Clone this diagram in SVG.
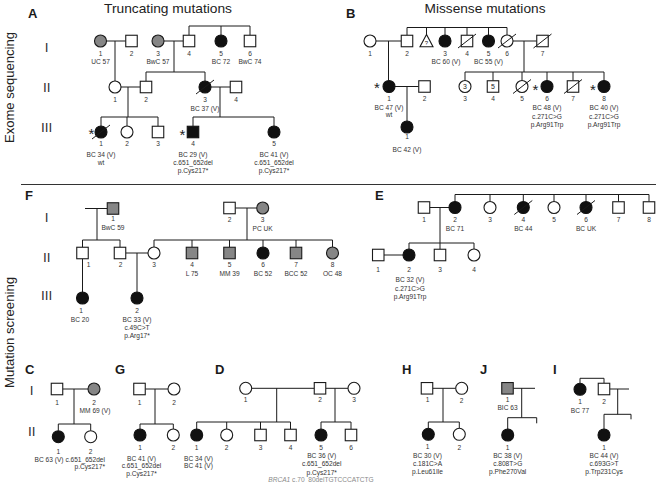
<svg xmlns="http://www.w3.org/2000/svg" width="656" height="483" viewBox="0 0 656 483">
<style>
.o{fill:#fff;stroke:#1a1a1a;stroke-width:1.1}
.k{fill:#111;stroke:#111;stroke-width:1.1}
.g{fill:#868686;stroke:#1a1a1a;stroke-width:1.1}
.c{fill:none;stroke:#1a1a1a;stroke-width:1}
.d{stroke:#1a1a1a;stroke-width:1}
.n{font-family:"Liberation Sans",Arial,sans-serif;font-size:6.6px;fill:#333;text-anchor:middle}
.p{font-family:"Liberation Sans",Arial,sans-serif;font-size:13px;font-weight:bold;fill:#1a1a1a}
.gen{font-family:"Liberation Sans",Arial,sans-serif;font-size:13.5px;fill:#333;text-anchor:middle}
.ttl{font-family:"Liberation Sans",Arial,sans-serif;font-size:13.5px;fill:#222;text-anchor:middle}
.st{font-family:"Liberation Sans",Arial,sans-serif;font-size:15px;fill:#222;text-anchor:middle}
.in{font-family:"Liberation Sans",Arial,sans-serif;font-size:7px;fill:#222;text-anchor:middle}
</style>
<rect width="656" height="483" fill="#fff"/>
<!-- titles and section labels -->
<text class="ttl" x="168" y="12.5" textLength="128" lengthAdjust="spacingAndGlyphs">Truncating mutations</text>
<text class="ttl" x="485" y="12.5" textLength="121" lengthAdjust="spacingAndGlyphs">Missense mutations</text>
<text class="ttl" transform="translate(13.5,87.5) rotate(-90)" textLength="111" lengthAdjust="spacingAndGlyphs">Exome sequencing</text>
<text class="ttl" transform="translate(13.5,332.5) rotate(-90)" textLength="111" lengthAdjust="spacingAndGlyphs">Mutation screening</text>
<line x1="21" y1="184.5" x2="656" y2="184.5" stroke="#333" stroke-width="1"/>
<text class="p" x="28" y="18.3">A</text>
<text class="p" x="346" y="18.3">B</text>
<text class="p" x="25" y="200">F</text>
<text class="p" x="375" y="200">E</text>
<text class="p" x="25" y="374">C</text>
<text class="p" x="115" y="374">G</text>
<text class="p" x="215" y="374">D</text>
<text class="p" x="402" y="374">H</text>
<text class="p" x="480" y="374">J</text>
<text class="p" x="553" y="374">I</text>
<g id="generations">
<text class="gen" x="46.7" y="51.7">I</text>
<text class="gen" x="46.7" y="91.7">II</text>
<text class="gen" x="46.7" y="131.7">III</text>
<text class="gen" x="46.7" y="221.7">I</text>
<text class="gen" x="46.7" y="261.7">II</text>
<text class="gen" x="46.7" y="300">III</text>
<text class="gen" x="31.7" y="395">I</text>
<text class="gen" x="31.7" y="436">II</text>
</g>
<g id="connectors" class="c">
<!-- A -->
<path d="M106.5 41H125.75M115 41V81M164 41H183.25M174 41V72M146 72H205M146 72V81.25M205 72V81M189 35.25V26H250V35.25M221 26V35M121 87H140.25M128 87V117M101 117H158M101 117V126M127 117V126M158 117V126.25M211 87H230.25M220 87V117M193 117H274M193 117V126.25M274 117V126"/>
<!-- B -->
<path d="M376 41H401.25M388.5 41V80.5M407 35.25V27.5H507V35M426.5 27.5V34.5M445 27.5V35M467 27.5V35.25M488.5 27.5V35M513 41H536.75M524 41V72M465 72H604M465 72V80.5M493 72V80.75M522 72V80.5M547 72V80.5M573 72V80.75M604 72V80.5M395 86.5H418.75M407 86.5V121"/>
<!-- F -->
<path d="M85 208.5H107.25M97 208.5V240M82.5 240H120M82.5 240V247.25M120 240V247.25M235.25 208H256.7M247 208V240M154 240H332.5M154 240V247M192 240V247.25M229.5 240V247.25M263 240V247M296 240V247.25M332.5 240V247M82.5 258.75V292M125.75 253H148M137 253V292"/>
<!-- E -->
<path d="M429.75 207.5H449M440 207.5V243M409 243H474M409 243V249M440 243V249.25M474 243V249M455 201.5V194.5H649V201.75M490 194.5V201.5M523.3 194.5V201.5M554 194.5V201.5M586 194.5V201.5M618.5 194.5V201.75M384 255H403"/>
<!-- C -->
<path d="M62.75 389H88M74 389V424M58.3 424H90.7M58.3 424V430.7M90.7 424V430.7"/>
<!-- G -->
<path d="M145.25 389H168M155 389V424M140 424H173.3M140 424V429M173.3 424V429"/>
<!-- D -->
<path d="M251.7 388.3H314.25M325.75 388.3H348M276.7 388.3V422M335 388.3V422M196.7 422H290.5M196.7 422V429M226.7 422V429M260.5 422V429.25M290.5 422V429.25M321 422H351M321 422V429M351 422V429.25"/>
<!-- H -->
<path d="M432.75 388.3H455.7M443 388.3V422M428.3 422H459.3M428.3 422V428.3M459.3 422V428.3"/>
<!-- J -->
<path d="M513.25 388.3H535M521.7 388.3V417.7M507.7 417.7H536.7V423.3M507.7 417.7V429"/>
<!-- I -->
<path d="M580 383.3V378.3H604V383.25M609.75 389H629M617.7 389V414.3M604 414.3H631V419.3M604 414.3V429"/>
</g>
<!-- ===== Panel A ===== -->
<g id="A-I-1"><circle class="g" cx="100.5" cy="41" r="6"/><text class="n" x="100.5" y="55.5">1</text><text class="n" x="100.5" y="64">UC 57</text></g>
<g id="A-I-2"><rect class="o" x="125.75" y="35.25" width="11.5" height="11.5"/><text class="n" x="131.5" y="55.5">2</text></g>
<g id="A-I-3"><circle class="g" cx="158" cy="41" r="6"/><text class="n" x="158" y="55.5">3</text><text class="n" x="158" y="64">BwC 57</text></g>
<g id="A-I-4"><rect class="o" x="183.25" y="35.25" width="11.5" height="11.5"/><text class="n" x="189" y="55.5">4</text></g>
<g id="A-I-5"><circle class="k" cx="221" cy="41" r="6"/><text class="n" x="221" y="55.5">5</text><text class="n" x="221" y="64">BC 72</text></g>
<g id="A-I-6"><rect class="o" x="244.25" y="35.25" width="11.5" height="11.5"/><text class="n" x="250" y="55.5">6</text><text class="n" x="250" y="64">BwC 74</text></g>
<g id="A-II-1"><circle class="o" cx="115" cy="87" r="6"/><text class="n" x="115" y="101.5">1</text></g>
<g id="A-II-2"><rect class="o" x="140.25" y="81.25" width="11.5" height="11.5"/><text class="n" x="146" y="101.5">2</text></g>
<g id="A-II-3"><circle class="k" cx="205" cy="87" r="6"/><line class="d" x1="196" y1="94" x2="214" y2="80"/><text class="n" x="205" y="101.5">3</text><text class="n" x="205" y="110.5">BC 37 (V)</text></g>
<g id="A-II-4"><rect class="o" x="230.25" y="81.25" width="11.5" height="11.5"/><text class="n" x="236" y="101.5">4</text></g>
<g id="A-III-1"><circle class="k" cx="101" cy="132" r="6"/><line class="d" x1="92" y1="139" x2="110" y2="125"/><text class="st" x="91.5" y="138.6">*</text><text class="n" x="101" y="146">1</text><text class="n" x="101" y="156.5">BC 34 (V)</text><text class="n" x="101" y="164.8">wt</text></g>
<g id="A-III-2"><circle class="o" cx="127" cy="132" r="6"/><text class="n" x="127" y="146">2</text></g>
<g id="A-III-3"><rect class="o" x="152.25" y="126.25" width="11.5" height="11.5"/><text class="n" x="158" y="146">3</text></g>
<g id="A-III-4"><rect class="k" x="187.25" y="126.25" width="11.5" height="11.5"/><text class="st" x="182.3" y="139.6">*</text><text class="n" x="193" y="146">4</text><text class="n" x="193" y="156.5">BC 29 (V)</text><text class="n" x="193" y="164.8">c.651_652del</text><text class="n" x="193" y="173">p.Cys217*</text></g>
<g id="A-III-5"><circle class="k" cx="274" cy="132" r="6"/><text class="n" x="274" y="146">5</text><text class="n" x="274" y="156.5">BC 41 (V)</text><text class="n" x="274" y="164.8">c.651_652del</text><text class="n" x="274" y="173">p.Cys217*</text></g>
<!-- ===== Panel B ===== -->
<g id="B-I-1"><circle class="o" cx="370" cy="41" r="6"/><text class="n" x="370" y="55.5">1</text></g>
<g id="B-I-2"><rect class="o" x="401.25" y="35.25" width="11.5" height="11.5"/><text class="n" x="407" y="55.5">2</text></g>
<g id="B-I-x"><polygon class="o" points="426.5,34.5 420,46.7 433,46.7"/><text class="in" x="426.5" y="45.3" style="font-size:6px">?</text></g>
<g id="B-I-3"><circle class="k" cx="445" cy="41" r="6"/><text class="n" x="445" y="55.5">3</text><text class="n" x="446" y="63.5">BC 60 (V)</text></g>
<g id="B-I-4"><rect class="o" x="461.25" y="35.25" width="11.5" height="11.5"/><line class="d" x1="458" y1="48" x2="476" y2="34"/><text class="n" x="467" y="55.5">4</text></g>
<g id="B-I-5"><circle class="k" cx="488.5" cy="41" r="6"/><text class="n" x="488.5" y="55.5">5</text><text class="n" x="488.5" y="63.5">BC 55 (V)</text></g>
<g id="B-I-6"><circle class="o" cx="507" cy="41" r="6"/><line class="d" x1="498" y1="48" x2="516" y2="34"/><text class="n" x="507" y="55.5">6</text></g>
<g id="B-I-7"><rect class="o" x="536.75" y="35.25" width="11.5" height="11.5"/><line class="d" x1="533.5" y1="48" x2="551.5" y2="34"/><text class="n" x="542.5" y="55.5">7</text></g>
<g id="B-II-1"><circle class="k" cx="389" cy="86.5" r="6"/><text class="st" x="377" y="92.6">*</text><text class="n" x="389" y="101">1</text><text class="n" x="389" y="109.5">BC 47 (V)</text><text class="n" x="389" y="117.3">wt</text></g>
<g id="B-II-2"><rect class="o" x="418.75" y="80.75" width="11.5" height="11.5"/><text class="n" x="424.5" y="101">2</text></g>
<g id="B-II-3"><circle class="o" cx="465" cy="86.5" r="6"/><text class="in" x="465" y="89">3</text><text class="n" x="465" y="101">3</text></g>
<g id="B-II-4"><rect class="o" x="487.25" y="80.75" width="11.5" height="11.5"/><text class="in" x="493" y="89">5</text><text class="n" x="493" y="101">4</text></g>
<g id="B-II-5"><circle class="o" cx="522" cy="86.5" r="6"/><line class="d" x1="513" y1="93.5" x2="531" y2="79.5"/><text class="n" x="522" y="101">5</text></g>
<g id="B-II-6"><circle class="k" cx="547" cy="86.5" r="6"/><text class="st" x="535.3" y="94.6">*</text><text class="n" x="547" y="101">6</text><text class="n" x="547" y="110.3">BC 48 (V)</text><text class="n" x="547" y="118.8">c.271C&gt;G</text><text class="n" x="547" y="127.3">p.Arg91Trp</text></g>
<g id="B-II-7"><rect class="o" x="567.25" y="80.75" width="11.5" height="11.5"/><line class="d" x1="564" y1="93.5" x2="582" y2="79.5"/><text class="n" x="573" y="101">7</text></g>
<g id="B-II-8"><circle class="k" cx="604" cy="86.5" r="6"/><text class="st" x="593" y="94.6">*</text><text class="n" x="604" y="101">8</text><text class="n" x="604" y="110.3">BC 40 (V)</text><text class="n" x="604" y="118.8">c.271C&gt;G</text><text class="n" x="604" y="127.3">p.Arg91Trp</text></g>
<g id="B-III-1"><circle class="k" cx="407" cy="127" r="6"/><text class="n" x="407" y="139">1</text><text class="n" x="407" y="152.3">BC 42 (V)</text></g>
<!-- ===== Panel F ===== -->
<g id="F-I-1"><rect class="g" x="107.25" y="202.75" width="11.5" height="11.5"/><text class="n" x="113" y="221">1</text><text class="n" x="113" y="230">BwC 59</text></g>
<g id="F-I-2"><rect class="o" x="223.75" y="202.25" width="11.5" height="11.5"/><text class="n" x="229.5" y="222.3">2</text></g>
<g id="F-I-3"><circle class="g" cx="262.7" cy="208" r="6"/><text class="n" x="262.7" y="222.3">3</text><text class="n" x="262.7" y="231.3">PC UK</text></g>
<g id="F-II-1"><rect class="o" x="76.75" y="247.25" width="11.5" height="11.5"/><text class="n" x="88.5" y="267">1</text></g>
<g id="F-II-2"><rect class="o" x="114.25" y="247.25" width="11.5" height="11.5"/><text class="n" x="120.5" y="267">2</text></g>
<g id="F-II-3"><circle class="o" cx="154" cy="253" r="6"/><text class="n" x="154" y="267">3</text></g>
<g id="F-II-4"><rect class="g" x="186.25" y="247.25" width="11.5" height="11.5"/><text class="n" x="192" y="267">4</text><text class="n" x="192" y="276.3">L 75</text></g>
<g id="F-II-5"><rect class="g" x="223.75" y="247.25" width="11.5" height="11.5"/><text class="n" x="229.5" y="267">5</text><text class="n" x="229.5" y="276.3">MM 39</text></g>
<g id="F-II-6"><circle class="k" cx="263" cy="253" r="6"/><text class="n" x="263" y="267">6</text><text class="n" x="263" y="276.3">BC 52</text></g>
<g id="F-II-7"><rect class="g" x="290.25" y="247.25" width="11.5" height="11.5"/><text class="n" x="296" y="267">7</text><text class="n" x="296" y="276.3">BCC 52</text></g>
<g id="F-II-8"><circle class="g" cx="332.5" cy="253" r="6"/><text class="n" x="332.5" y="267">8</text><text class="n" x="332.5" y="276.3">OC 48</text></g>
<g id="F-III-1"><circle class="k" cx="82.5" cy="298" r="6"/><text class="n" x="81" y="313.3">1</text><text class="n" x="80" y="321.6">BC 20</text></g>
<g id="F-III-2"><circle class="k" cx="137" cy="298" r="6"/><text class="n" x="137" y="313.3">2</text><text class="n" x="137" y="321.6">BC 33 (V)</text><text class="n" x="137" y="330">c.49C&gt;T</text><text class="n" x="137" y="338">p.Arg17*</text></g>
<!-- ===== Panel E ===== -->
<g id="E-I-1"><rect class="o" x="418.25" y="201.75" width="11.5" height="11.5"/><text class="n" x="424" y="222.3">1</text></g>
<g id="E-I-2"><circle class="k" cx="455" cy="207.5" r="6"/><text class="n" x="455" y="222.3">2</text><text class="n" x="455" y="231.3">BC 71</text></g>
<g id="E-I-3"><circle class="o" cx="490" cy="207.5" r="6"/><text class="n" x="490" y="222.3">3</text></g>
<g id="E-I-4"><circle class="k" cx="523.3" cy="207.5" r="6"/><line class="d" x1="514.3" y1="214.5" x2="532.3" y2="200.5"/><text class="n" x="523.3" y="222.3">4</text><text class="n" x="523.3" y="231.3">BC 44</text></g>
<g id="E-I-5"><circle class="o" cx="554" cy="207.5" r="6"/><text class="n" x="554" y="222.3">5</text></g>
<g id="E-I-6"><circle class="k" cx="586" cy="207.5" r="6"/><line class="d" x1="577" y1="214.5" x2="595" y2="200.5"/><text class="n" x="586" y="222.3">6</text><text class="n" x="586" y="231.3">BC UK</text></g>
<g id="E-I-7"><rect class="o" x="612.75" y="201.75" width="11.5" height="11.5"/><text class="n" x="618.5" y="222.3">7</text></g>
<g id="E-I-8"><rect class="o" x="643.25" y="201.75" width="11.5" height="11.5"/><text class="n" x="649" y="222.3">8</text></g>
<g id="E-II-1"><rect class="o" x="372.5" y="249.25" width="11.5" height="11.5"/><text class="n" x="378" y="271.6">1</text></g>
<g id="E-II-2"><circle class="k" cx="409" cy="255" r="6"/><text class="n" x="409" y="271.6">2</text><text class="n" x="410" y="282.3">BC 32 (V)</text><text class="n" x="410" y="290.6">c.271C&gt;G</text><text class="n" x="410" y="298.8">p.Arg91Trp</text></g>
<g id="E-II-3"><rect class="o" x="434.25" y="249.25" width="11.5" height="11.5"/><text class="n" x="440" y="271.6">3</text></g>
<g id="E-II-4"><circle class="o" cx="474" cy="255" r="6"/><text class="n" x="474" y="271.6">4</text></g>
<!-- ===== Panel C ===== -->
<g id="C-I-1"><rect class="o" x="51.25" y="383.25" width="11.5" height="11.5"/><text class="n" x="57" y="405">1</text></g>
<g id="C-I-2"><circle class="g" cx="94" cy="389" r="6"/><text class="n" x="94" y="405">2</text><text class="n" x="95" y="413.3">MM 69 (V)</text></g>
<g id="C-II-1"><circle class="k" cx="58.3" cy="436.7" r="6"/><text class="n" x="58.3" y="454">1</text><text class="n" x="105" y="461.6" style="text-anchor:end">BC 63 (V) c.651_652del</text><text class="n" x="105" y="469" style="text-anchor:end">p.Cys217*</text></g>
<g id="C-II-2"><circle class="o" cx="90.7" cy="436.7" r="6"/><text class="n" x="90.7" y="454">2</text></g>
<!-- ===== Panel G ===== -->
<g id="G-I-1"><rect class="o" x="133.75" y="383.25" width="11.5" height="11.5"/><text class="n" x="139.5" y="405">1</text></g>
<g id="G-I-2"><circle class="o" cx="174" cy="389" r="6"/><text class="n" x="174" y="405">2</text></g>
<g id="G-II-1"><circle class="k" cx="140" cy="435" r="6"/><text class="n" x="140" y="450">1</text><text class="n" x="141.5" y="460.6">BC 41 (V)</text><text class="n" x="141.5" y="468">c.651_652del</text><text class="n" x="141.5" y="476.3">p.Cys217*</text></g>
<g id="G-II-2"><circle class="o" cx="173.3" cy="435" r="6"/><text class="n" x="173.3" y="450">2</text></g>
<!-- ===== Panel D ===== -->
<g id="D-I-1"><circle class="o" cx="245.7" cy="388.3" r="6"/><text class="n" x="245.7" y="402.3">1</text></g>
<g id="D-I-2"><rect class="o" x="314.25" y="382.55" width="11.5" height="11.5"/><text class="n" x="320" y="402.3">2</text></g>
<g id="D-I-3"><circle class="o" cx="354" cy="388.3" r="6"/><text class="n" x="354" y="402.3">3</text></g>
<g id="D-II-1"><circle class="k" cx="196.7" cy="435" r="6"/><text class="n" x="196.7" y="449.5">1</text><text class="n" x="198.5" y="460.6">BC 34 (V)</text><text class="n" x="198.5" y="468">BC 41 (V)</text></g>
<g id="D-II-2"><circle class="o" cx="226.7" cy="435" r="6"/><text class="n" x="226.7" y="449.5">2</text></g>
<g id="D-II-3"><rect class="o" x="254.75" y="429.25" width="11.5" height="11.5"/><text class="n" x="260.5" y="449.5">3</text></g>
<g id="D-II-4"><rect class="o" x="284.75" y="429.25" width="11.5" height="11.5"/><text class="n" x="290.5" y="449.5">4</text></g>
<g id="D-II-5"><circle class="k" cx="321" cy="435" r="6"/><text class="n" x="321" y="449.5">5</text><text class="n" x="321.7" y="458">BC 36 (V)</text><text class="n" x="321.7" y="466.3">c.651_652del</text><text class="n" x="321.7" y="475">p.Cys217*</text><text class="n" x="321" y="482.3" style="fill:#8a8a8a"><tspan font-style="italic">BRCA1</tspan> c.70_80delTGTCCCATCTG</text></g>
<g id="D-II-6"><rect class="o" x="345.25" y="429.25" width="11.5" height="11.5"/><text class="n" x="351" y="449.5">6</text></g>
<!-- ===== Panel H ===== -->
<g id="H-I-1"><rect class="o" x="421.25" y="382.55" width="11.5" height="11.5"/><text class="n" x="427.5" y="402.3">1</text></g>
<g id="H-I-2"><circle class="o" cx="461.7" cy="388.3" r="6"/><text class="n" x="461.7" y="403">2</text></g>
<g id="H-II-1"><circle class="k" cx="428.3" cy="434.3" r="6"/><text class="n" x="427.7" y="449">1</text><text class="n" x="427.5" y="458">BC 30 (V)</text><text class="n" x="427.5" y="466">c.181C&gt;A</text><text class="n" x="427.5" y="474.3">p.Leu61Ile</text></g>
<g id="H-II-2"><circle class="o" cx="459.3" cy="434.3" r="6"/><text class="n" x="459.3" y="450">2</text></g>
<!-- ===== Panel J ===== -->
<g id="J-I-1"><rect class="g" x="501.75" y="382.55" width="11.5" height="11.5"/><text class="n" x="507.5" y="402.3">1</text><text class="n" x="507.5" y="410.3">BIC 63</text></g>
<g id="J-II-1"><circle class="k" cx="507.7" cy="435" r="6"/><text class="n" x="507.7" y="450">1</text><text class="n" x="507.7" y="458">BC 38 (V)</text><text class="n" x="507.7" y="466">c.808T&gt;G</text><text class="n" x="507.7" y="474.3">p.Phe270Val</text></g>
<!-- ===== Panel I ===== -->
<g id="I-I-1"><circle class="k" cx="580" cy="389.3" r="6"/><text class="n" x="580" y="404">1</text><text class="n" x="580" y="413">BC 77</text></g>
<g id="I-I-2"><rect class="o" x="598.25" y="383.25" width="11.5" height="11.5"/><text class="n" x="604" y="404">2</text></g>
<g id="I-II-1"><circle class="k" cx="604" cy="435" r="6"/><text class="n" x="604" y="450">1</text><text class="n" x="604" y="458">BC 44 (V)</text><text class="n" x="604" y="466">c.693G&gt;T</text><text class="n" x="604" y="474.3">p.Trp231Cys</text></g>
</svg>
